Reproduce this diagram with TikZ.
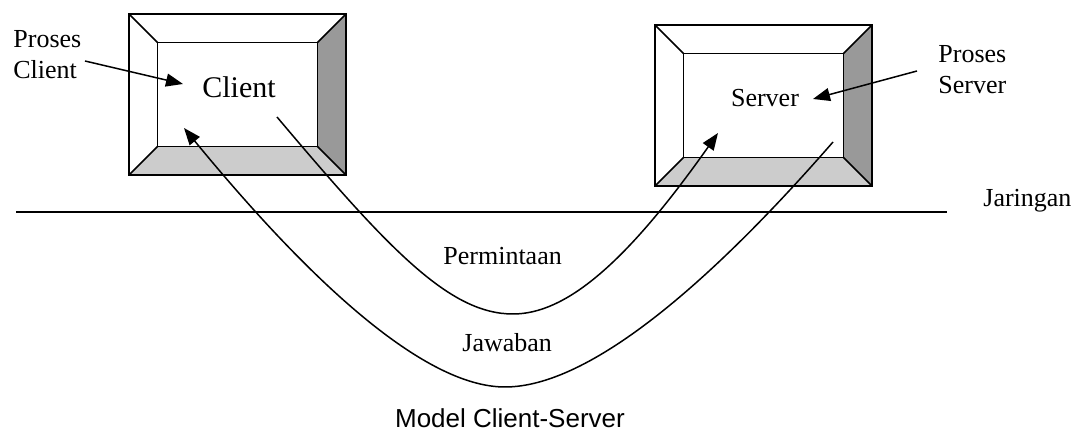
\documentclass[tikz,border=0pt]{standalone}
\usepackage{fontspec}
\setmainfont{Liberation Serif}
\setsansfont{Liberation Sans}
\usetikzlibrary{arrows.meta}
\definecolor{bevelDark}{HTML}{999999}
\definecolor{bevelLight}{HTML}{CCCCCC}
\tikzset{
  label text/.style={font=\fontsize{13}{15.5}\selectfont, inner sep=0pt, align=left},
  pointer/.style={-{Triangle[length=8.5pt,width=6.5pt]}, line width=0.75pt},
  flow/.style={line width=0.75pt}
}
\newcommand{\monitor}[2]{%
  \begin{scope}[shift={#2}]
    \coordinate (#1) at (0,0);
    \fill[bevelDark] (80,-52) -- (108.5,-80.5) -- (108.5,80.5) -- (80,52) -- cycle;
    \fill[bevelLight] (-80,52) -- (80,52) -- (108.5,80.5) -- (-108.5,80.5) -- cycle;
    \draw[line width=0.75pt] (-80,-52) rectangle (80,52);
    \foreach \ix/\iy/\ox/\oy in {-80/-52/-108.5/-80.5, 80/-52/108.5/-80.5,
                                 80/52/108.5/80.5, -80/52/-108.5/80.5}
      \draw[line width=0.75pt] (\ix,\iy) -- (\ox,\oy);
    \draw[line width=1pt] (-108.5,-80.5) rectangle (108.5,80.5);
  \end{scope}}

\begin{document}
\begin{tikzpicture}[x=0.5pt, y=-0.5pt]
  \useasboundingbox (0,0) rectangle (1089,432);
  \monitor{client}{(237.5,94.5)}
  \monitor{server}{(763.5,105.5)}

  \node[label text, font=\fontsize{15}{17}\selectfont, anchor=base] (clientname) at (239,98) {Client};
  \node[label text, anchor=base] (servername) at (765,107) {Server};
  \node[label text, anchor=north west] (pclient) at (13,30) {Proses\\Client};
  \node[label text, anchor=north west] (pserver) at (938,45) {Proses\\Server};
  \node[label text, anchor=base west] (net) at (983,207) {Jaringan};
  \node[label text, anchor=base west] (req) at (443,265) {Permintaan};
  \node[label text, anchor=base west] (ans) at (462,352) {Jawaban};
  \node[label text, font=\sffamily\fontsize{13}{15.5}\selectfont, anchor=base] (title) at (510,428) {Model Client-Server};

  \coordinate (pclient-from) at (85,61);
  \coordinate (pclient-to) at (183,84);
  \coordinate (pserver-from) at (917,71);
  \coordinate (pserver-to) at (813,99);
  \coordinate (net-left) at (16,212);
  \coordinate (net-right) at (947,212);
  \coordinate (req-start) at (277,117);
  \coordinate (req-low) at (513,314);
  \coordinate (req-end) at (718,133);
  \coordinate (ans-start) at (833,142);
  \coordinate (ans-low) at (505,387);
  \coordinate (ans-end) at (184,128);

  \draw[pointer] (pclient-from) -- (pclient-to);
  \draw[pointer] (pserver-from) -- (pserver-to);
  \draw[line width=0.75pt] (net-left) -- (net-right);
  \draw[flow, pointer] (req-start) .. controls (390,251) and (450,314) .. (req-low)
    .. controls (565,314) and (625,265) .. (req-end);
  \draw[flow, pointer] (ans-start) .. controls (711,282) and (590,387) .. (ans-low)
    .. controls (430,387) and (322,296) .. (ans-end);
\end{tikzpicture}
\end{document}
